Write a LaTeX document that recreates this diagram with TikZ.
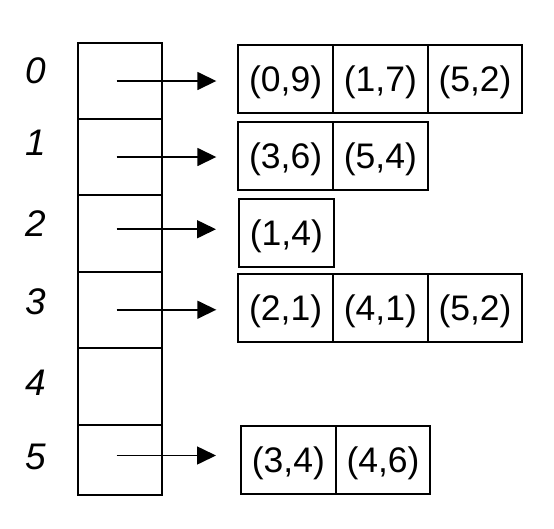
\documentclass[tikz,border=0pt]{standalone}
\usepackage{fontspec}
\setmainfont{Liberation Sans}
\usetikzlibrary{arrows.meta}
\begin{document}
\begin{tikzpicture}[x=1pt,y=-1pt,
  arr/.style={line width=1.6pt,-{Triangle[length=19pt,width=18pt]}},
  slot/.style={draw,line width=2pt,minimum width=84pt,inner sep=0pt,outer sep=0pt},
  pair/.style={draw,line width=2pt,minimum width=94.7pt,minimum height=67.7pt,inner sep=0pt,outer sep=0pt,
    font=\fontsize{35.5}{40}\selectfont,text height=25.4pt,text depth=0pt,anchor=west},
  idx/.style={inner sep=0pt,font=\fontsize{37}{42}\selectfont\itshape,text height=26.5pt,text depth=0pt}]
\useasboundingbox (0,0) rectangle (554,528);
% array slots
\node[slot,minimum height=76pt]   (a0) at (120,81)     {};
\node[slot,minimum height=76pt]   (a1) at (120,157)    {};
\node[slot,minimum height=76.5pt] (a2) at (120,233.25) {};
\node[slot,minimum height=76.5pt] (a3) at (120,309.75) {};
\node[slot,minimum height=76.5pt] (a4) at (120,386.25) {};
\node[slot,minimum height=70pt]   (a5) at (120,459.5)  {};
% index labels
\node[idx] (l0) at (36,70)    {0};
\node[idx] (l1) at (36,142.5) {1};
\node[idx] (l2) at (36,223)   {2};
\node[idx] (l3) at (36,301.7) {3};
\node[idx] (l4) at (36,382.5) {4};
\node[idx] (l5) at (36,456.7) {5};
% lists
\node[pair] (t00) at (238.3,78.65) {(0,9)};
\node[pair] (t01) at (t00.east) {(1,7)};
\node[pair] (t02) at (t01.east) {(5,2)};
\node[pair] (t10) at (238.3,155.85) {(3,6)};
\node[pair] (t11) at (t10.east) {(5,4)};
\node[pair] (t20) at (239,233) {(1,4)};
\node[pair] (t30) at (238.3,307.85) {(2,1)};
\node[pair] (t31) at (t30.east) {(4,1)};
\node[pair] (t32) at (t31.east) {(5,2)};
\node[pair] (t50) at (241,460) {(3,4)};
\node[pair] (t51) at (t50.east) {(4,6)};
% pointers
\draw[arr,shorten >=22pt] ([xshift=-3.3pt]a0.center) -- (a0.center -| t00.west);
\draw[arr,shorten >=22pt] ([xshift=-3.3pt]a1.center) -- (a1.center -| t10.west);
\draw[arr,shorten >=23pt] ([xshift=-3.3pt,yshift=4pt]a2.center) -- ([yshift=4pt]a2.center -| t20.west);
\draw[arr,shorten >=22pt] ([xshift=-3.3pt]a3.center) -- (a3.center -| t30.west);
\draw[arr,shorten >=25pt] ([xshift=-3.3pt,yshift=4pt]a5.center) -- ([yshift=4pt]a5.center -| t50.west);
\end{tikzpicture}
\end{document}
